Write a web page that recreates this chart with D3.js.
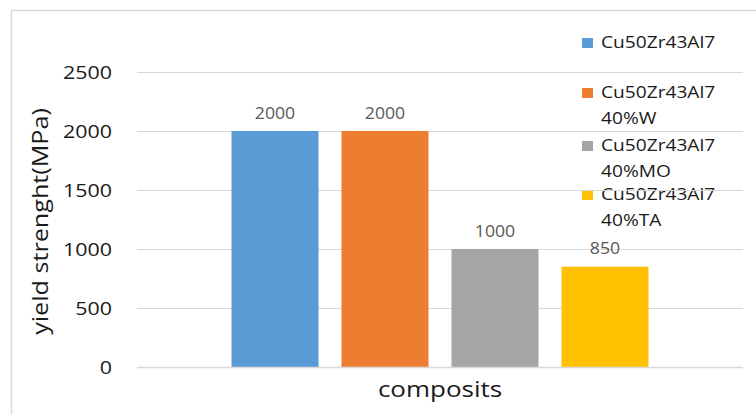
<!DOCTYPE html>
<html>
<head>
<meta charset="utf-8">
<script src="https://cdn.jsdelivr.net/npm/d3@7"></script>
<style>
  html, body { margin: 0; padding: 0; background: #fff; }
  svg { display: block; font-family: "Open Sans", "Liberation Sans", sans-serif; }
</style>
</head>
<body>
<svg id="chart" width="756" height="414"></svg>
<script>
// Yield strength of the base glass and its composites
const seriesNames = ["Cu50Zr43Al7", "Cu50Zr43Al7 40%W", "Cu50Zr43Al7 40%MO", "Cu50Zr43Al7 40%TA"];
const legendLines = [["Cu50Zr43Al7"], ["Cu50Zr43Al7", "40%W"], ["Cu50Zr43Al7", "40%MO"], ["Cu50Zr43Al7", "40%TA"]];
const values = [2000, 2000, 1000, 850];
const colors = ["#5b9bd5", "#ed7d31", "#a5a5a5", "#ffc000"];
const category = ["composits"];
const yTicks = [0, 500, 1000, 1500, 2000, 2500];

const svg = d3.select("#chart");

// widen glyphs of a text selection by a horizontal factor
function widen(sel, factor) {
  sel.each(function () {
    const len = this.getComputedTextLength();
    d3.select(this).attr("textLength", len * factor).attr("lengthAdjust", "spacingAndGlyphs");
  });
}

// chart frame
svg.append("path")
  .attr("d", "M11.5,414 V10.5 H756")
  .attr("fill", "none").attr("stroke", "#d9d9d9").attr("stroke-width", 1.5);

const plot = { left: 137, right: 743, top: 72, bottom: 367 };

const y = d3.scaleLinear().domain([0, 2500]).range([plot.bottom, plot.top]);
const x0 = d3.scaleBand().domain(category).range([plot.left, plot.right]).paddingInner(0).paddingOuter(0.2266);
const x1 = d3.scaleBand().domain(seriesNames).range([0, x0.bandwidth()]).paddingInner(0.209).paddingOuter(0);

// legend
const legendBase = [48, 98, 151, 200];
const leg = svg.append("g");
legendLines.forEach((lines, i) => {
  const item = leg.append("g").attr("transform", `translate(582,${legendBase[i]})`);
  item.append("rect")
    .attr("x", 0).attr("y", -10).attr("width", 11).attr("height", 10)
    .attr("fill", colors[i]);
  lines.forEach((t, j) => {
    item.append("text")
      .attr("x", 19).attr("y", j * 26)
      .attr("font-size", 16.5)
      .attr("fill", "#1a1a1a")
      .text(t)
      .call(widen, 1.16);
  });
});

// horizontal gridlines
svg.append("g")
  .selectAll("line")
  .data(yTicks.slice(1))
  .join("line")
  .attr("x1", plot.left).attr("x2", plot.right)
  .attr("y1", d => Math.round(y(d)) + 0.5).attr("y2", d => Math.round(y(d)) + 0.5)
  .attr("stroke", "#d9d9d9").attr("stroke-width", 1.2);

// y axis tick labels
const yAxis = d3.axisLeft(y).tickValues(yTicks).tickFormat(d3.format("d")).tickSize(0).tickPadding(0);
const gy = svg.append("g").attr("transform", `translate(${plot.left - 25},0)`).call(yAxis);
gy.select(".domain").remove();
gy.selectAll("text")
  .attr("font-size", 18).attr("fill", "#1a1a1a")
  .attr("font-family", "'Open Sans', sans-serif")
  .attr("dy", "0.36em")
  .call(widen, 1.19);

// bars
const g = svg.append("g").attr("transform", `translate(${x0(category[0])},0)`);
g.selectAll("rect")
  .data(values)
  .join("rect")
  .attr("x", (d, i) => x1(seriesNames[i]))
  .attr("y", d => y(d))
  .attr("width", x1.bandwidth())
  .attr("height", d => y(0) - y(d))
  .attr("fill", (d, i) => colors[i]);

// value labels
g.selectAll("text.val")
  .data(values)
  .join("text")
  .attr("class", "val")
  .attr("x", (d, i) => x1(seriesNames[i]) + x1.bandwidth() / 2)
  .attr("y", d => y(d) - 12.5)
  .attr("text-anchor", "middle")
  .attr("font-size", 15.5)
  .attr("fill", "#595959")
  .text(d => d)
  .call(widen, 1.14);

// baseline
svg.append("line")
  .attr("x1", plot.left).attr("x2", plot.right)
  .attr("y1", Math.round(y(0)) + 0.5).attr("y2", Math.round(y(0)) + 0.5)
  .attr("stroke", "#d9d9d9").attr("stroke-width", 1.5);

// x axis title
svg.append("text")
  .attr("x", (plot.left + plot.right) / 2)
  .attr("y", 397)
  .attr("text-anchor", "middle")
  .attr("font-size", 22.4)
  .attr("fill", "#1a1a1a")
  .text(category[0])
  .call(widen, 1.16);

// y axis title
svg.append("text")
  .attr("transform", `translate(48,221.5) rotate(-90)`)
  .attr("text-anchor", "middle")
  .attr("font-size", 21.5)
  .attr("fill", "#1a1a1a")
  .text("yield strenght(MPa)")
  .call(widen, 1.17);
</script>
</body>
</html>
